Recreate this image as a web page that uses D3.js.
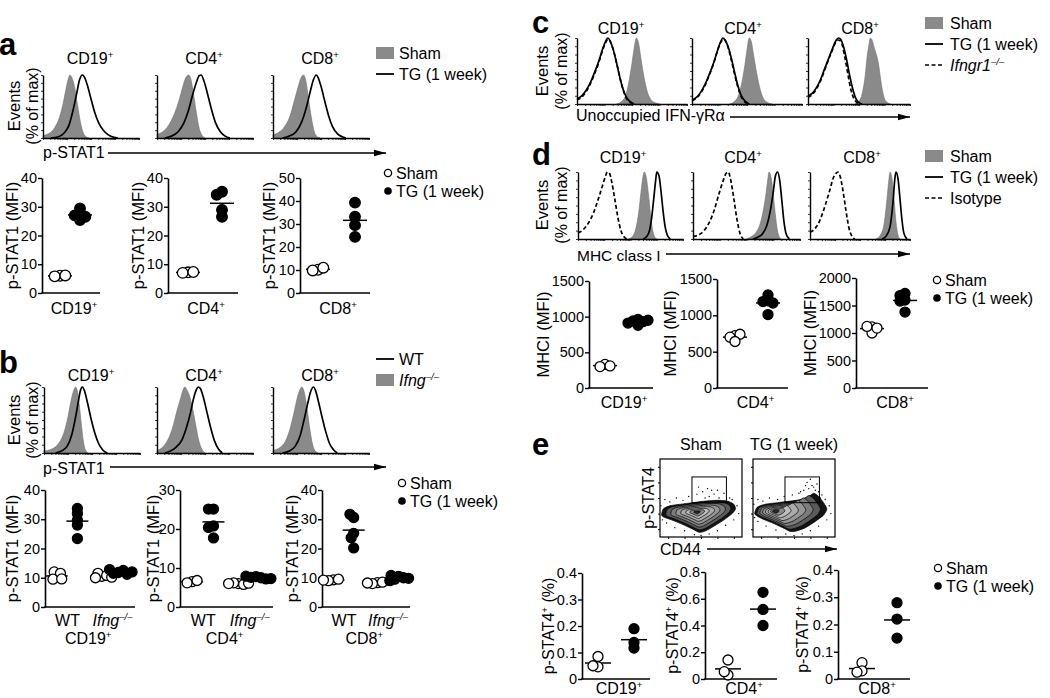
<!DOCTYPE html>
<html><head><meta charset="utf-8">
<script src="https://cdn.jsdelivr.net/npm/d3@7"></script>
<style>body{margin:0;background:#fff}svg{display:block}</style>
</head><body><script>
// ---------------- DATA ----------------
const cellTypes = ["CD19", "CD4", "CD8"];

// Histogram curves: [x (% of axis width), y (% of max)]
const aShamHist = [
  [[0,4],[6,7],[12,16],[17,32],[21,55],[24,78],[26,92],[28,100],[30,96],[33,80],[36,52],[39,25],[42,8],[45,2],[48,0]],
  [[0,6],[6,10],[12,20],[18,38],[23,60],[27,82],[30,96],[33,100],[35,95],[38,70],[41,40],[44,15],[47,4],[50,0]],
  [[0,5],[6,9],[12,18],[18,36],[22,58],[26,80],[29,95],[32,100],[34,92],[37,62],[40,32],[43,10],[46,2],[49,0]]
];
const aTGHist = [
  [[8,0],[16,2],[22,8],[27,20],[31,42],[35,70],[38,92],[41,100],[43,97],[46,85],[50,62],[54,40],[58,24],[63,12],[68,5],[74,1],[78,0]],
  [[8,0],[15,3],[22,10],[28,24],[33,45],[37,68],[41,88],[44,99],[46,100],[49,90],[53,68],[57,44],[61,24],[66,10],[71,3],[76,0]],
  [[10,0],[17,3],[24,10],[30,26],[35,50],[39,75],[42,92],[45,100],[47,96],[50,82],[54,58],[58,35],[62,18],[67,7],[72,2],[76,0]]
];
const bKOHist = [
  [[0,3],[8,6],[15,14],[21,32],[25,55],[28,78],[31,95],[33,100],[35,92],[37,70],[39,42],[41,18],[43,5],[46,0]],
  [[0,4],[6,9],[12,22],[17,42],[21,65],[25,85],[27,95],[29,100],[31,96],[34,86],[37,68],[40,45],[43,22],[46,8],[50,0]],
  [[0,4],[7,8],[13,18],[18,38],[22,62],[25,82],[28,96],[30,100],[32,95],[35,72],[38,40],[41,14],[44,3],[47,0]]
];
const bWTHist = [
  [[12,0],[18,3],[24,10],[29,28],[33,55],[36,80],[38,95],[40,100],[42,95],[45,78],[49,52],[53,30],[57,14],[61,5],[66,0]],
  [[8,0],[14,3],[20,9],[26,20],[31,40],[35,62],[38,82],[41,96],[43,100],[45,98],[48,86],[52,62],[56,38],[60,18],[64,6],[68,0]],
  [[10,0],[17,3],[23,10],[28,25],[32,48],[36,74],[39,92],[42,100],[44,96],[47,80],[51,55],[55,32],[59,14],[63,5],[67,0]]
];
const cShamHist = [
  [[36,0],[40,3],[44,12],[47,32],[50,62],[52,85],[54,100],[56,92],[58,70],[61,40],[64,18],[67,7],[71,2],[75,0]],
  [[34,0],[38,3],[42,12],[45,30],[48,58],[50,82],[52,100],[54,94],[56,74],[59,45],[62,22],[65,8],[69,2],[73,0]],
  [[46,0],[50,4],[53,15],[56,42],[58,72],[60,92],[61,100],[63,96],[65,85],[67,75],[69,62],[71,40],[73,20],[75,8],[78,2],[81,0]]
];
const cTGHist = [
  [[0,8],[4,12],[8,20],[12,32],[16,48],[20,66],[23,82],[26,95],[28,100],[30,96],[33,82],[36,62],[39,40],[42,22],[45,10],[48,4],[52,0]],
  [[0,6],[4,10],[8,18],[12,30],[16,46],[20,64],[23,80],[26,94],[28,100],[30,97],[33,86],[36,68],[39,46],[42,26],[45,12],[48,5],[52,0]],
  [[0,12],[4,16],[8,24],[12,36],[16,52],[20,68],[24,84],[27,95],[30,100],[32,98],[35,86],[38,66],[41,42],[44,22],[47,8],[50,2],[53,0]]
];
const cKOHist = [
  [[0,6],[4,10],[8,18],[12,30],[16,46],[20,64],[23,80],[26,93],[28,98],[31,92],[34,76],[37,55],[40,33],[43,16],[46,6],[50,1],[53,0]],
  [[0,5],[4,9],[8,17],[12,29],[16,45],[20,63],[23,80],[26,93],[29,98],[32,90],[35,72],[38,50],[41,30],[44,14],[47,5],[51,0]],
  [[0,10],[4,14],[8,22],[12,34],[16,50],[20,67],[24,82],[27,93],[30,97],[33,92],[36,72],[39,46],[42,22],[45,8],[48,2],[51,0]]
];
const dShamHist = [
  [[48,0],[52,4],[55,15],[58,42],[60,70],[62,94],[63,100],[65,92],[67,68],[69,38],[71,14],[73,3],[75,0]],
  [[50,0],[55,4],[59,10],[63,24],[66,45],[68,65],[70,90],[71,100],[73,92],[75,66],[77,36],[79,12],[82,0]],
  [[66,0],[70,5],[74,22],[77,60],[79,90],[80,100],[82,90],[84,60],[86,25],[88,6],[90,0]]
];
const dTGHist = [
  [[62,0],[65,3],[68,12],[70,30],[72,58],[74,88],[75,100],[77,95],[79,72],[81,42],[83,18],[85,6],[88,0]],
  [[56,0],[61,3],[65,8],[69,20],[72,40],[75,70],[77,94],[79,100],[81,88],[83,58],[85,26],[87,8],[90,0]],
  [[72,0],[76,4],[80,18],[83,55],[85,92],[86,100],[88,90],[90,60],[92,28],[94,8],[97,0]]
];
const dIsoHist = [
  [[0,9],[5,14],[10,24],[15,40],[19,58],[23,78],[26,93],[28,100],[30,98],[32,86],[35,60],[38,32],[41,12],[44,3],[47,0]],
  [[0,4],[5,6],[10,12],[15,24],[20,44],[24,66],[28,86],[31,98],[33,100],[35,90],[38,62],[41,30],[44,8],[47,0]],
  [[0,10],[4,14],[8,22],[12,36],[16,54],[20,74],[23,90],[26,98],[28,100],[30,94],[33,72],[36,42],[39,16],[42,4],[45,0]]
];

// Dot plots
const aSham = [[6.0,5.8,6.1],[7.2,7.0,7.3],[10.1,9.8,11.0]];
const aTG   = [[27.5,27.0,29.4,26.5,25.4],[35.2,34.2,28.9,26.5],[39.3,33.2,29.5,24.4]];
const aYMax = [40,40,50];

const bWTSham = [[10.5,12,11.5,9.5,9.6],[6.5,6.2,6.8],[9.3,9.0,9.5,9.2]];
const bWTTG   = [[29.7,32,33.7,28,23.4],[25.1,25.1,20.8,20.4,17.7],[30.6,31.7,25.2,23.7,20.2]];
const bKOSham = [[10.5,11.5,10.8,10,10.2],[6,6.2,5.8,6,6.1],[8.3,8.0,8.5,8.2]];
const bKOTG   = [[12.5,11.8,11.2,12,11.5,12.8],[7.5,7.8,7.2,7.6,7.3,7.9],[10.5,9.5,10,9,10.8,9.8]];
const bYMax = [40,30,40];

const dSham = [[330,300,310],[720,700,740,640],[1110,1000,1120,1090]];
const dTG   = [[960,940,930,910,880,950],[1280,1200,1190,1170,1010],[1720,1680,1600,1580,1380]];
const dYMax = [1500,1500,2000];

const eSham = [[0.085,0.046,0.05],[0.142,0.03,0.055],[0.06,0.03,0.025]];
const eTG   = [[0.19,0.138,0.117],[0.648,0.52,0.40],[0.28,0.22,0.15]];
const eYMax = [0.4,0.8,0.4];
const eYStep = [0.1,0.2,0.1];

// Flow plots (x: % CD44 axis, y: % p-STAT4 axis)
const flowGroups = ["Sham","TG (1 week)"];
const flowOuter = [
  [[2,28],[4,36],[12,40],[25,42],[40,44],[55,46],[70,47],[82,46],[90,42],[92,36],[88,30],[78,22],[66,14],[56,8],[48,6],[40,10],[28,16],[14,22],[6,25]],
  [[2,30],[5,38],[15,42],[30,44],[45,46],[58,48],[68,52],[74,56],[80,52],[86,44],[90,36],[86,28],[76,20],[64,12],[54,8],[46,7],[38,11],[26,17],[12,23],[5,27]]
];
const flowCenter = [[45,32],[26,33]];
const flowDots = [
  [[6,48],[12,45],[20,50],[28,47],[35,52],[45,55],[52,58],[60,52],[66,55],[72,50],[78,56],[85,50],[94,40],[96,30],[90,22],[80,15],[70,8],[60,4],[50,2],[42,3],[30,8],[18,12],[8,18],[3,22],[1,40],[58,62],[47,64],[70,60],[75,45],[63,60],[88,48],[55,50]],
  [[6,48],[12,46],[20,50],[30,48],[38,52],[48,54],[56,56],[62,60],[68,62],[72,66],[76,60],[80,58],[84,54],[88,48],[93,40],[95,30],[90,22],[80,14],[70,8],[60,4],[50,2],[40,4],[28,9],[16,14],[6,20],[2,25],[1,42],[66,70],[70,74],[74,64],[78,68],[64,66],[82,50],[58,58]]
];
const flowGate = [39,81,44,77]; // x0,x1,y0,y1

// ---------------- DRAWING ----------------
const FONT = '"Liberation Sans", Arial, Helvetica, sans-serif';
const svg = d3.select("body").append("svg").attr("width",1050).attr("height",698)
  .style("font-family",FONT);
svg.append("defs").append("marker").attr("id","arr").attr("viewBox","0 0 12 8")
  .attr("refX",12).attr("refY",4).attr("markerWidth",12).attr("markerHeight",8)
  .attr("markerUnits","userSpaceOnUse").attr("orient","auto")
  .append("path").attr("d","M0,0.8 L12,4 L0,7.2 Z").attr("fill","#000");

function label(x, y, parts, o={}) {
  const size = o.size || 16;
  const t = svg.append("text").attr("x",x).attr("y",y).attr("font-size",size)
    .attr("text-anchor",o.anchor||"start").attr("fill","#000");
  if (o.bold) t.attr("font-weight","bold");
  if (o.rotate) t.attr("transform",`rotate(-90,${x},${y})`);
  let up = false;
  parts.forEach(([s,type]) => {
    const ts = t.append("tspan").text(s);
    if (type.includes("i")) ts.attr("font-style","italic");
    if (type.includes("s")) { ts.attr("font-size",size*0.6).attr("dy",-size*0.4); up = true; }
    else if (up) { ts.attr("dy",size*0.4); up = false; }
  });
  return t;
}
const sup = c => [[c,"n"],["+","s"]];

function histPanel(x0, w, top, bottom, fills, lines) {
  const x = d3.scaleLinear().domain([0,100]).range([x0, x0+w]);
  const y = d3.scaleLinear().domain([0,100]).range([bottom, top]);
  const g = svg.append("g");
  fills.forEach(data => {
    g.append("path").datum(data).attr("fill","#8a8a8a").attr("stroke","#707070").attr("stroke-width",0.6)
      .attr("d", d3.area().x(d=>x(d[0])).y0(bottom).y1(d=>y(d[1])).curve(d3.curveMonotoneX));
  });
  lines.forEach(([data, dash]) => {
    g.append("path").datum(data).attr("fill","none").attr("stroke","#000").attr("stroke-width",1.7)
      .attr("stroke-dasharray", dash ? "4,2.5" : null)
      .attr("d", d3.line().x(d=>x(d[0])).y(d=>y(d[1])).curve(d3.curveMonotoneX));
  });
  const ya = g.append("g").attr("transform",`translate(${x0},0)`)
    .call(d3.axisLeft(y).tickValues(d3.range(0,101,12.5)).tickSize(2).tickSizeOuter(0).tickFormat(""));
  const lx = d3.scaleLog().domain([1,1e4]).range([x0, x0+w]);
  const xa = g.append("g").attr("transform",`translate(0,${bottom})`)
    .call(d3.axisBottom(lx).tickValues(lx.ticks()).tickSize(2).tickSizeOuter(0).tickFormat(""));
  [ya, xa].forEach(a => { a.select(".domain").attr("stroke-width",1.4); a.selectAll(".tick line").attr("stroke-width",0.8); });
}

function swarm(vals, cx, y, r) {
  const placed = [];
  return vals.map(v => {
    const py = y(v); let best = null;
    for (let k = 0; k < 60 && !best; k++) {
      for (const s of (k === 0 ? [0] : [-k, k])) {
        const px = cx + s * r * 0.25;
        if (placed.every(p => Math.hypot(p[0]-px, p[1]-py) >= r * 0.95)) { best = [px, py]; break; }
      }
    }
    placed.push(best); return best;
  });
}

function dotPanel(o) {
  const g = svg.append("g");
  const y = d3.scaleLinear().domain([0,o.yMax]).range([o.bottom,o.top]);
  const ticks = d3.range(0, o.yMax + o.step/2, o.step);
  const ax = g.append("g").attr("transform",`translate(${o.ax},0)`)
    .call(d3.axisLeft(y).tickValues(ticks).tickSize(4).tickSizeOuter(0).tickPadding(1).tickFormat(o.fmt || (d=>d)));
  ax.attr("font-size",null).attr("font-family",null);
  ax.select(".domain").attr("stroke-width",1.6);
  ax.selectAll(".tick line").attr("stroke-width",1.4);
  ax.selectAll(".tick text").attr("font-size",14.5).attr("font-family",FONT).attr("fill","#000");
  g.append("line").attr("x1",o.ax-0.8).attr("x2",o.right).attr("y1",o.bottom).attr("y2",o.bottom)
    .attr("stroke","#000").attr("stroke-width",1.6);
  const r = o.r || 5;
  o.groups.forEach(gr => {
    const m = d3.mean(gr.vals);
    const pts = swarm(gr.vals, gr.cx, y, r);
    g.append("line").attr("x1",gr.cx-o.mw).attr("x2",gr.cx+o.mw).attr("y1",y(m)).attr("y2",y(m))
      .attr("stroke","#000").attr("stroke-width",1.5);
    g.selectAll(null).data(pts).join("circle").attr("cx",d=>d[0]).attr("cy",d=>d[1]).attr("r",r)
      .attr("fill",gr.filled ? "#000" : "#fff").attr("stroke","#000").attr("stroke-width",1.3);
  });
  label(o.ylx + 6, (o.top+o.bottom)/2, o.ylabel, {rotate:true, anchor:"middle", size:o.yls||16.5});
}

function dotLegend(x, y) {
  svg.append("circle").attr("cx",x).attr("cy",y).attr("r",3.6).attr("fill","#fff").attr("stroke","#000").attr("stroke-width",1.3);
  svg.append("circle").attr("cx",x).attr("cy",y+18).attr("r",3.8).attr("fill","#000");
  label(x+8, y+5.5, [["Sham","n"]]);
  label(x+8, y+23.5, [["TG (1 week)","n"]]);
}
function eventsLabel(cx1, cx2, cy) {
  label(cx1+6, cy, [["Events","n"]], {rotate:true, anchor:"middle", size:16.5});
  label(cx2+6, cy, [["(% of max)","n"]], {rotate:true, anchor:"middle", size:16});
}
function arrowLine(x1, x2, y) {
  svg.append("line").attr("x1",x1).attr("x2",x2).attr("y1",y).attr("y2",y)
    .attr("stroke","#000").attr("stroke-width",1.3).attr("marker-end","url(#arr)");
}

// ===== Panel a =====
label(-1, 55, [["a","n"]], {bold:true, size:31});
const abX = [43, 157, 273];
cellTypes.forEach((c,i) => {
  label(abX[i]+47, 64, sup(c), {anchor:"middle"});
  histPanel(abX[i], 96, 75, 138, [aShamHist[i]], [[aTGHist[i], false]]);
});
eventsLabel(14, 32, 106);
label(43, 158, [["p-STAT1","n"]]);
arrowLine(108, 386, 153);
svg.append("rect").attr("x",376).attr("y",47).attr("width",18).attr("height",12).attr("fill","#8a8a8a");
label(399, 59, [["Sham","n"]]);
svg.append("line").attr("x1",376).attr("x2",394).attr("y1",74).attr("y2",74).attr("stroke","#000").attr("stroke-width",1.8);
label(399, 80, [["TG (1 week)","n"]]);

const aAx = [42, 168, 300], aRight = [100, 238, 370], aYl = [12, 138, 269];
const aShamX = [60, 188, 318], aTGX = [80, 222, 355];
cellTypes.forEach((c,i) => {
  dotPanel({ax:aAx[i], right:aRight[i], top:178, bottom:293, yMax:aYMax[i], step:10, r:5.3, mw:12,
    ylx:aYl[i], ylabel:[["p-STAT1 (MFI)","n"]],
    groups:[{vals:aSham[i], cx:aShamX[i], filled:false},{vals:aTG[i], cx:aTGX[i], filled:true}]});
  label((aAx[i]+aRight[i])/2+3, 314, sup(c), {anchor:"middle"});
});
dotLegend(388, 173);

// ===== Panel b =====
label(-1, 373, [["b","n"]], {bold:true, size:31});
const bbX = [44, 157, 273];
cellTypes.forEach((c,i) => {
  label(bbX[i]+47, 381, sup(c), {anchor:"middle"});
  histPanel(bbX[i], 96, 387, 453, [bKOHist[i]], [[bWTHist[i], false]]);
});
eventsLabel(14, 32, 420);
label(43, 474, [["p-STAT1","n"]]);
arrowLine(110, 386, 467);
svg.append("line").attr("x1",376).attr("x2",394).attr("y1",359).attr("y2",359).attr("stroke","#000").attr("stroke-width",1.8);
label(399, 365, [["WT","n"]]);
svg.append("rect").attr("x",376).attr("y",374).attr("width",18).attr("height",12).attr("fill","#8a8a8a");
label(399, 386, [["Ifng","i"],["–/–","is"]]);

const bAx = [45, 180, 322], bRight = [135, 273, 410], bYl = [12, 153, 292];
const bRel = [0.13, 0.36, 0.63, 0.87];
cellTypes.forEach((c,i) => {
  const L = bRight[i]-bAx[i], cx = k => bAx[i] + L*bRel[k];
  dotPanel({ax:bAx[i], right:bRight[i], top:490, bottom:607, yMax:bYMax[i], step:10, r:5, mw:11,
    ylx:bYl[i], ylabel:[["p-STAT1 (MFI)","n"]],
    groups:[{vals:bWTSham[i], cx:cx(0), filled:false},{vals:bWTTG[i], cx:cx(1), filled:true},
            {vals:bKOSham[i], cx:cx(2), filled:false},{vals:bKOTG[i], cx:cx(3), filled:true}]});
  label(bAx[i] + L*0.25, 626, [["WT","n"]], {anchor:"middle"});
  label(bAx[i] + L*0.75, 626, [["Ifng","i"],["–/–","is"]], {anchor:"middle"});
  label(bAx[i] + L*0.48, 644, sup(c), {anchor:"middle"});
});
dotLegend(402, 483);

// ===== Panel c =====
label(532, 33, [["c","n"]], {bold:true, size:31});
const cX = [577, 692, 808], cW = [110, 110, 102];
const cTitleX = [621, 743, 860];
cellTypes.forEach((c,i) => {
  label(cTitleX[i], 34, sup(c), {anchor:"middle"});
  histPanel(cX[i], cW[i], 38, 104, [cShamHist[i]], [[cKOHist[i], true],[cTGHist[i], false]]);
});
eventsLabel(542, 561, 71);
label(576, 121, [["Unoccupied IFN-γRα","n"]]);
arrowLine(730, 910, 117);
svg.append("rect").attr("x",925).attr("y",17).attr("width",18).attr("height",12).attr("fill","#8a8a8a");
label(950, 29, [["Sham","n"]]);
svg.append("line").attr("x1",925).attr("x2",943).attr("y1",44).attr("y2",44).attr("stroke","#000").attr("stroke-width",1.8);
label(950, 50, [["TG (1 week)","n"]]);
svg.append("line").attr("x1",925).attr("x2",943).attr("y1",65).attr("y2",65).attr("stroke","#000").attr("stroke-width",1.3).attr("stroke-dasharray","4,2.5");
label(950, 71, [["Ifngr1","i"],["–/–","is"]]);

// ===== Panel d =====
label(532, 165, [["d","n"]], {bold:true, size:31});
const dX = [578, 693, 810], dW = [105, 107, 100];
const dTitleX = [623, 743, 862];
cellTypes.forEach((c,i) => {
  label(dTitleX[i], 163, sup(c), {anchor:"middle"});
  histPanel(dX[i], dW[i], 172, 239, [dShamHist[i]], [[dIsoHist[i], true],[dTGHist[i], false]]);
});
eventsLabel(542, 561, 205);
label(577, 261, [["MHC class I","n"]], {size:15.5});
arrowLine(666, 910, 254);
svg.append("rect").attr("x",925).attr("y",150).attr("width",18).attr("height",12).attr("fill","#8a8a8a");
label(950, 162, [["Sham","n"]]);
svg.append("line").attr("x1",925).attr("x2",943).attr("y1",177).attr("y2",177).attr("stroke","#000").attr("stroke-width",1.8);
label(950, 183, [["TG (1 week)","n"]]);
svg.append("line").attr("x1",925).attr("x2",943).attr("y1",198).attr("y2",198).attr("stroke","#000").attr("stroke-width",1.3).attr("stroke-dasharray","4,2.5");
label(950, 204, [["Isotype","n"]]);

const dAx = [589, 717, 856], dRight = [653, 788, 928], dYl = [543, 670, 810];
const dShamX = [605, 735, 872], dTGX = [638, 768, 905];
const dTop = [281, 279, 278];
cellTypes.forEach((c,i) => {
  dotPanel({ax:dAx[i], right:dRight[i], top:dTop[i], bottom:388, yMax:dYMax[i], step:500, r:5, mw:12,
    ylx:dYl[i], ylabel:[["MHCI (MFI)","n"]],
    groups:[{vals:dSham[i], cx:dShamX[i], filled:false},{vals:dTG[i], cx:dTGX[i], filled:true}]});
  label((dAx[i]+dRight[i])/2+3, 408, sup(c), {anchor:"middle"});
});
dotLegend(937, 280);

// ===== Panel e =====
label(532, 455, [["e","n"]], {bold:true, size:31});
const fX = [660, 753], fW = 82, fTop = 459, fBottom = 537;
flowGroups.forEach((name, gi) => {
  const x = d3.scaleLinear().domain([0,100]).range([fX[gi], fX[gi]+fW]);
  const y = d3.scaleLinear().domain([0,100]).range([fBottom, fTop]);
  const g = svg.append("g");
  label(fX[gi]+fW/2, 450, [[name,"n"]], {anchor:"middle"});
  g.selectAll(null).data(flowDots[gi]).join("circle").attr("cx",d=>x(d[0])).attr("cy",d=>y(d[1]))
    .attr("r",0.7).attr("fill","#000");
  const levels = [1,0.88,0.74,0.6,0.46,0.32,0.2,0.09];
  const fills = ["#141414","#5a5a5a","#7c7c7c","#969696","#aaaaaa","#bdbdbd","#8a8a8a","#2a2a2a"];
  const c0 = flowCenter[gi];
  levels.forEach((k, li) => {
    const poly = flowOuter[gi].map(p => [c0[0]+(p[0]-c0[0])*k, c0[1]+(p[1]-c0[1])*k]);
    g.append("path").datum(poly).attr("fill",fills[li]).attr("stroke","#000").attr("stroke-width",0.7)
      .attr("d", d3.line().x(d=>x(d[0])).y(d=>y(d[1])).curve(d3.curveCardinalClosed.tension(0.3)));
  });
  g.append("rect").attr("x",x(flowGate[0])).attr("y",y(flowGate[3])).attr("width",x(flowGate[1])-x(flowGate[0]))
    .attr("height",y(flowGate[2])-y(flowGate[3])).attr("fill","none").attr("stroke","#000").attr("stroke-width",1);
  g.append("rect").attr("x",fX[gi]).attr("y",fTop).attr("width",fW).attr("height",fBottom-fTop)
    .attr("fill","none").attr("stroke","#000").attr("stroke-width",1.2);
  const ya = g.append("g").attr("transform",`translate(${fX[gi]},0)`)
    .call(d3.axisLeft(y).tickValues([10,30,50,70,90]).tickSize(2).tickSizeOuter(0).tickFormat(""));
  const xa = g.append("g").attr("transform",`translate(0,${fBottom})`)
    .call(d3.axisBottom(x).tickValues([10,30,50,70,90]).tickSize(2).tickSizeOuter(0).tickFormat(""));
  [ya,xa].forEach(a => a.select(".domain").remove());
});
label(654, 498, [["p-STAT4","n"]], {rotate:true, anchor:"middle"});
label(660, 555, [["CD44","n"]]);
arrowLine(707, 837, 549);

const eAx = [582, 705, 838], eRight = [650, 777, 910], eYl = [548, 672, 802];
const eShamX = [598, 728, 862], eTGX = [634, 763, 897];
const eTop = [573, 572, 570];
cellTypes.forEach((c,i) => {
  dotPanel({ax:eAx[i], right:eRight[i], top:eTop[i], bottom:679, yMax:eYMax[i], step:eYStep[i], r:5, mw:13,
    fmt: d => d === 0 ? "0" : d3.format(".1f")(d), yls:16,
    ylx:eYl[i], ylabel:[["p-STAT4","n"],["+","s"],[" (%)","n"]],
    groups:[{vals:eSham[i], cx:eShamX[i], filled:false},{vals:eTG[i], cx:eTGX[i], filled:true}]});
  label((eAx[i]+eRight[i])/2+3, 694, sup(c), {anchor:"middle"});
});
dotLegend(938, 568);
</script></body></html>
